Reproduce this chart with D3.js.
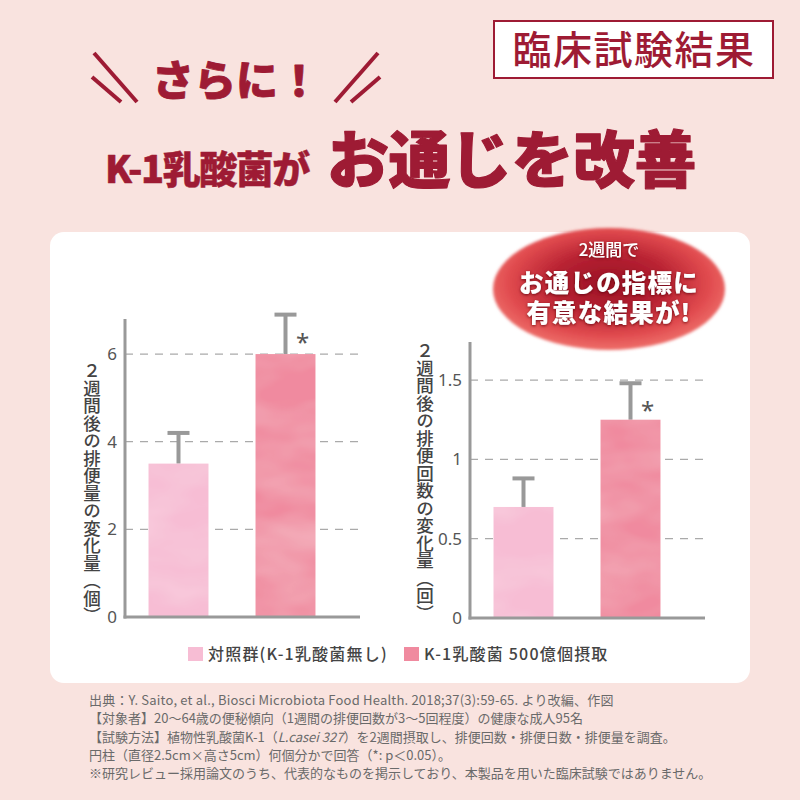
<!DOCTYPE html>
<html>
<head>
<meta charset="utf-8">
<script src="https://cdn.jsdelivr.net/npm/d3@7"></script>
<style>
  html, body { margin: 0; padding: 0; background: #f9e3df; }
  svg { display: block; font-family: "Noto Sans CJK JP", "Noto Sans", sans-serif; }
</style>
</head>
<body>
<script>
var w = 800;
var h = 800;

// data
var groups = ["対照群(K-1乳酸菌無し)", "K-1乳酸菌 500億個摂取"];
var amountMean = [3.5, 6.0];      // 排便量の変化量（個）
var amountSD = [0.7, 0.9];
var countMean = [0.7, 1.25];      // 排便回数の変化量（回）
var countSD = [0.18, 0.23];
var amountTicks = [0, 2, 4, 6];
var countTicks = [0, 0.5, 1, 1.5];
var starred = [false, true];

var barColors = ["#f7bdd4", "#f08a9f"];
var red = "#9e1b34";

var badgeLines = ["お通じの指標に", "有意な結果が!"];

var notes = [
  "出典：Y. Saito, et al., Biosci Microbiota Food Health. 2018;37(3):59-65. より改編、作図",
  "【対象者】20～64歳の便秘傾向（1週間の排便回数が3～5回程度）の健康な成人95名",
  null,
  "円柱（直径2.5cm×高さ5cm）何個分かで回答（*: p＜0.05）。",
  "※研究レビュー採用論文のうち、代表的なものを掲示しており、本製品を用いた臨床試験ではありません。"
];

var svg = d3.select("body").append("svg")
  .attr("width", w)
  .attr("height", h);

var defs = svg.append("defs");

// watercolour texture for bars
var f = defs.append("filter").attr("id", "wc")
  .attr("x", 0).attr("y", 0).attr("width", 1).attr("height", 1);
f.append("feTurbulence").attr("type", "fractalNoise")
  .attr("baseFrequency", "0.012 0.025").attr("numOctaves", 3).attr("seed", 7).attr("result", "n");
f.append("feColorMatrix").attr("in", "n").attr("type", "matrix")
  .attr("values", "0 0 0 0 1  0 0 0 0 1  0 0 0 0 1  0.35 0 0 0 -0.12").attr("result", "spots");
f.append("feComposite").attr("in", "spots").attr("in2", "SourceGraphic").attr("operator", "in").attr("result", "sp");
var fm = f.append("feMerge");
fm.append("feMergeNode").attr("in", "SourceGraphic");
fm.append("feMergeNode").attr("in", "sp");

// badge gradient
var rg = defs.append("radialGradient").attr("id", "badge")
  .attr("cx", "50%").attr("cy", "45%").attr("r", "55%");
rg.append("stop").attr("offset", "0%").attr("stop-color", "#9a1226");
rg.append("stop").attr("offset", "45%").attr("stop-color", "#b82232");
rg.append("stop").attr("offset", "78%").attr("stop-color", "#e04a4e");
rg.append("stop").attr("offset", "100%").attr("stop-color", "#ee6f6a");

var soft = defs.append("filter").attr("id", "soft")
  .attr("x", "-10%").attr("y", "-10%").attr("width", "120%").attr("height", "120%");
soft.append("feGaussianBlur").attr("stdDeviation", 1.5);

var shadow = defs.append("filter").attr("id", "tshadow");
shadow.append("feDropShadow").attr("dx", 0).attr("dy", 1).attr("stdDeviation", 1.5)
  .attr("flood-color", "#5a0010").attr("flood-opacity", 0.8);

// background
svg.append("rect").attr("width", w).attr("height", h).attr("fill", "#f9e3df");

// header
svg.append("rect")
  .attr("x", 494).attr("y", 21).attr("width", 279).attr("height", 57)
  .attr("fill", "#fff").attr("stroke", red).attr("stroke-width", 2);
svg.append("text")
  .attr("x", 634).attr("y", 64)
  .attr("text-anchor", "middle")
  .attr("font-size", 39).attr("fill", red).attr("font-weight", 500)
  .attr("letter-spacing", 1.5)
  .text("臨床試験結果");

var slashes = [
  [94, 53, 137, 102], [92, 77, 121, 102],
  [378, 53, 335, 102], [380, 77, 351, 102]
];
svg.selectAll("line.slash").data(slashes).enter().append("line")
  .attr("class", "slash")
  .attr("x1", function(d) { return d[0]; })
  .attr("y1", function(d) { return d[1]; })
  .attr("x2", function(d) { return d[2]; })
  .attr("y2", function(d) { return d[3]; })
  .attr("stroke", red).attr("stroke-width", 4);

svg.append("text")
  .attr("x", 236).attr("y", 96)
  .attr("text-anchor", "middle")
  .attr("font-size", 42).attr("font-weight", 900).attr("fill", red)
  .attr("stroke", red).attr("stroke-width", 0.8).attr("stroke-linejoin", "round")
  .text("さらに！");

var title = svg.append("text").attr("y", 183).attr("fill", red).attr("font-weight", 900)
  .attr("stroke", red).attr("stroke-linejoin", "round");
title.append("tspan").attr("x", 105).attr("font-size", 38).attr("letter-spacing", -1.5)
  .attr("stroke-width", 0.5).text("K-1乳酸菌が");
title.append("tspan").attr("x", 327).attr("font-size", 62).attr("letter-spacing", -0.5)
  .attr("stroke-width", 1.1).text("お通じを改善");

// white panel
svg.append("rect")
  .attr("x", 50).attr("y", 232).attr("width", 700).attr("height", 451)
  .attr("rx", 14).attr("fill", "#fff");

// draws one bar chart
function drawChart(opts) {
  var x = d3.scaleBand()
    .domain(groups)
    .range([opts.left, opts.left + 214])
    .paddingInner(0.44)
    .paddingOuter(0.22);
  var y = d3.scaleLinear()
    .domain([0, opts.max])
    .range([opts.bottom, opts.top]);

  var g = svg.append("g");

  // grid
  g.selectAll("line.grid").data(opts.ticks.filter(function(d) { return d > 0; }))
    .enter().append("line")
    .attr("x1", opts.left).attr("x2", opts.right)
    .attr("y1", function(d) { return y(d); })
    .attr("y2", function(d) { return y(d); })
    .attr("stroke", "#aaa").attr("stroke-width", 1.2)
    .attr("stroke-dasharray", "8,7");

  // error bars
  var err = g.selectAll("g.err").data(groups).enter().append("g");
  err.append("line")
    .attr("x1", function(d) { return x(d) + x.bandwidth() / 2; })
    .attr("x2", function(d) { return x(d) + x.bandwidth() / 2; })
    .attr("y1", function(d, i) { return y(opts.mean[i]); })
    .attr("y2", function(d, i) { return y(opts.mean[i] + opts.sd[i]); })
    .attr("stroke", "#999").attr("stroke-width", 4);
  err.append("line")
    .attr("x1", function(d) { return x(d) + x.bandwidth() / 2 - 11; })
    .attr("x2", function(d) { return x(d) + x.bandwidth() / 2 + 11; })
    .attr("y1", function(d, i) { return y(opts.mean[i] + opts.sd[i]); })
    .attr("y2", function(d, i) { return y(opts.mean[i] + opts.sd[i]); })
    .attr("stroke", "#999").attr("stroke-width", 4);

  // bars
  g.selectAll("rect.bar").data(groups).enter().append("rect")
    .attr("x", function(d) { return x(d); })
    .attr("width", x.bandwidth())
    .attr("y", function(d, i) { return y(opts.mean[i]); })
    .attr("height", function(d, i) { return y(0) - y(opts.mean[i]); })
    .attr("fill", function(d, i) { return barColors[i]; })
    .attr("filter", "url(#wc)");

  // significance marks
  g.selectAll("text.star").data(groups.filter(function(d, i) { return starred[i]; }))
    .enter().append("text")
    .attr("x", function(d) { return x(d) + x.bandwidth() / 2 + 17; })
    .attr("y", function(d) { var i = groups.indexOf(d); return y(opts.mean[i] + opts.sd[i]) + 36; })
    .attr("text-anchor", "middle")
    .attr("font-family", "'Noto Sans', sans-serif")
    .attr("font-size", 24).attr("fill", "#555")
    .text("*");

  // y axis
  var yAxis = d3.axisLeft(y).tickValues(opts.ticks).tickSize(0).tickPadding(8)
    .tickFormat(function(d) { return String(d); });
  var ay = g.append("g")
    .attr("transform", "translate(" + opts.left + ",0)")
    .call(yAxis);
  ay.select(".domain").remove();
  ay.selectAll("text")
    .attr("font-size", 17).attr("fill", "#555")
    .attr("font-family", "'Noto Sans', sans-serif");

  // axis lines
  g.append("line")
    .attr("x1", opts.left).attr("x2", opts.left)
    .attr("y1", opts.top).attr("y2", opts.bottom + 1.5)
    .attr("stroke", "#999").attr("stroke-width", 3);
  g.append("line")
    .attr("x1", opts.left - 1.5).attr("x2", opts.right)
    .attr("y1", opts.bottom).attr("y2", opts.bottom)
    .attr("stroke", "#999").attr("stroke-width", 3);

  // vertical title
  g.append("text")
    .attr("x", opts.labelX).attr("y", opts.labelY)
    .style("writing-mode", "vertical-rl")
    .style("text-orientation", "upright")
    .attr("font-size", 17.5).attr("fill", "#444").attr("font-weight", 500)
    .text(opts.label);
}

drawChart({
  left: 125, right: 360, top: 319, bottom: 617, max: 6.8,
  mean: amountMean, sd: amountSD, ticks: amountTicks,
  label: "２週間後の排便量の変化量（個）", labelX: 92, labelY: 362
});

// badge ellipse
var badge = svg.append("g");
badge.append("ellipse")
  .attr("cx", 609).attr("cy", 289).attr("rx", 116).attr("ry", 61)
  .attr("fill", "url(#badge)").attr("filter", "url(#soft)");
var bt = badge.append("g").attr("fill", "#fff").attr("text-anchor", "middle").attr("filter", "url(#tshadow)");
bt.append("text").attr("x", 609).attr("y", 256).attr("font-size", 17).attr("font-weight", 500).text("2週間で");
var big = bt.append("text").attr("y", 292)
  .attr("font-size", 24.5).attr("font-weight", 900).attr("letter-spacing", 1.2);
big.selectAll("tspan").data(badgeLines).enter().append("tspan")
  .attr("x", 609)
  .attr("dy", function(d, i) { return i === 0 ? 0 : 30; })
  .text(function(d) { return d; });

drawChart({
  left: 470, right: 705, top: 342, bottom: 618, max: 1.74,
  mean: countMean, sd: countSD, ticks: countTicks,
  label: "２週間後の排便回数の変化量（回）", labelX: 425, labelY: 342
});

// legend
var legend = svg.append("g").selectAll("g").data(groups).enter().append("g")
  .attr("transform", function(d, i) { return "translate(" + [188, 404][i] + ",647)"; });
legend.append("rect")
  .attr("width", 15).attr("height", 14)
  .attr("fill", function(d, i) { return barColors[i]; });
legend.append("text")
  .attr("x", 20).attr("y", 13)
  .attr("font-size", 16).attr("fill", "#444").attr("font-weight", 500)
  .attr("letter-spacing", 1.2)
  .text(function(d) { return d; });

// footnotes
var fn = svg.append("g").attr("font-size", 13).attr("fill", "#6a6a6a");
notes.forEach(function(t, i) {
  var tx = fn.append("text").attr("x", 89).attr("y", 705 + i * 18.3);
  if (t) {
    tx.text(t);
    if (i === 0) tx.attr("letter-spacing", 0.2);
  } else {
    tx.append("tspan").text("【試験方法】植物性乳酸菌K-1（");
    tx.append("tspan").attr("font-style", "italic").text("L.casei 327");
    tx.append("tspan").text("）を2週間摂取し、排便回数・排便日数・排便量を調査。");
  }
});
</script>
</body>
</html>
